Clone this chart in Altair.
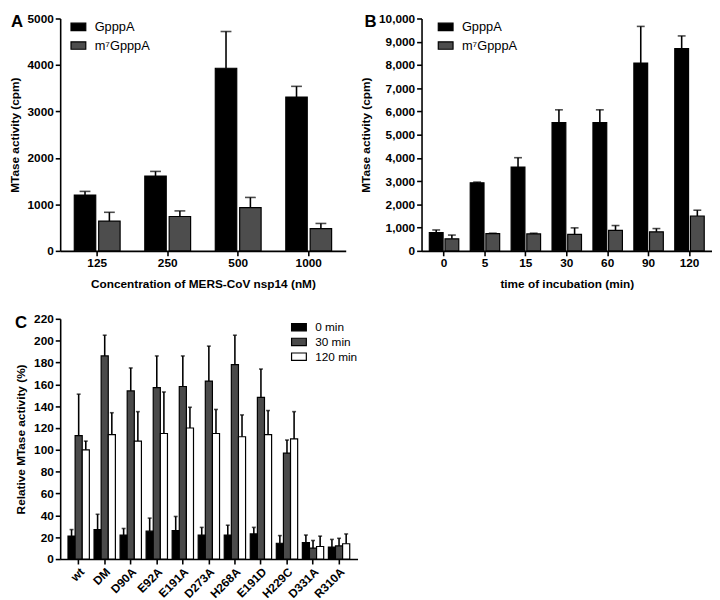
import altair as alt
import pandas as pd

FONT = "Liberation Sans"

# ---------------- Panel A data ----------------
a_conc = ["125", "250", "500", "1000"]
a_series = ["GpppA", "m⁷GpppA"]
a_gppp = [1200, 1610, 3930, 3310]
a_gppp_top = [1280, 1710, 4720, 3540]
a_m7 = [640, 740, 930, 480]
a_m7_top = [830, 860, 1150, 590]

# ---------------- Panel B data ----------------
b_time = ["0", "5", "15", "30", "60", "90", "120"]
b_gppp = [790, 2930, 3610, 5520, 5520, 8080, 8700]
b_gppp_top = [900, 2960, 4010, 6070, 6070, 9660, 9250]
b_m7 = [520, 740, 730, 710, 880, 820, 1500]
b_m7_top = [680, 760, 760, 990, 1090, 960, 1750]

# ---------------- Panel C data ----------------
c_mut = ["wt", "DM", "D90A", "E92A", "E191A", "D273A", "H268A", "E191D", "H229C", "D331A", "R310A"]
c_series = ["0 min", "30 min", "120 min"]
c_0 = [21, 27, 22, 25.5, 26, 22, 22, 23, 14.5, 15, 11]
c_0_top = [27, 41, 28, 37.5, 39, 29, 31, 29, 21.5, 22, 18]
c_30 = [113, 186, 154, 157, 158, 163, 178, 148, 97, 10, 12]
c_30_top = [151, 205, 175, 186, 186, 195, 205, 174, 109, 17, 19]
c_120 = [100, 114, 108, 115, 120, 115, 112, 114, 110, 11.5, 14]
c_120_top = [108, 134, 135, 153, 139, 137, 132, 136, 135, 21, 23]


def long_df(cats, series, vals, tops, cf, sf):
    rows = []
    for s, v, t in zip(series, vals, tops):
        for c, vv, tt in zip(cats, v, t):
            rows.append({cf: c, sf: s, "value": vv, "top": tt})
    return pd.DataFrame(rows)


df_a = long_df(a_conc, a_series, [a_gppp, a_m7], [a_gppp_top, a_m7_top], "conc", "subA")
df_b = long_df(b_time, a_series, [b_gppp, b_m7], [b_gppp_top, b_m7_top], "time", "subB")
df_c = long_df(c_mut, c_series, [c_0, c_30, c_120], [c_0_top, c_30_top, c_120_top], "mut", "tp")

RECT = "M-1,-0.5H1V0.5H-1Z"


def panel(df, cf, sf, cats, series, colors, ymax, ystep, ytitle, xtitle, fmt, w, h,
          pin, pout, offpad, capsize, legend, letter, letter_x, label_angle=0):
    yscale = alt.Scale(domain=[0, ymax], nice=False, zero=True)
    yaxis = alt.Axis(values=list(range(0, ymax + 1, ystep)), format=fmt, title=ytitle,
                     titlePadding=6)
    base = alt.Chart(df).encode(
        x=alt.X(f"{cf}:N", sort=cats, title=xtitle,
                scale=alt.Scale(paddingInner=pin, paddingOuter=pout),
                axis=alt.Axis(labelAngle=label_angle, titlePadding=10)),
        xOffset=alt.XOffset(f"{sf}:N", sort=series,
                            scale=alt.Scale(paddingInner=offpad, paddingOuter=0)),
    )
    bars = base.mark_bar(stroke="black", strokeWidth=1.2).encode(
        y=alt.Y("value:Q", scale=yscale, axis=yaxis, title=ytitle),
        fill=alt.Fill(f"{sf}:N", sort=series,
                      scale=alt.Scale(domain=series, range=colors), legend=legend),
    )
    rule = base.mark_rule(color="black", strokeWidth=1.6).encode(
        y=alt.Y("value:Q", scale=yscale, axis=yaxis, title=ytitle),
        y2="top:Q",
    )
    cap = base.mark_tick(orient="horizontal", size=capsize, thickness=1.6, color="black").encode(
        y=alt.Y("top:Q", scale=yscale, axis=yaxis, title=ytitle),
    )
    lab = alt.Chart(pd.DataFrame({"t": [letter]})).mark_text(
        font=FONT, fontSize=17, fontWeight="bold", align="left", baseline="top", color="black"
    ).encode(x=alt.value(letter_x), y=alt.value(-4), text="t:N")
    return alt.layer(bars, rule, cap, lab).properties(width=w, height=h)


def legend(x, y, labsize, rowpad):
    return alt.Legend(title=None, orient="none", legendX=x, legendY=y,
                      symbolType=RECT, symbolSize=225, symbolStrokeColor="black",
                      symbolStrokeWidth=1.2, labelFontSize=labsize, labelFont=FONT,
                      labelFontWeight="normal", rowPadding=rowpad, labelOffset=8)


chart_a = panel(df_a, "conc", "subA", a_conc, a_series, ["#000000", "#4d4d4d"], 5000, 1000,
                "MTase activity (cpm)", "Concentration of MERS-CoV nsp14 (nM)", "d",
                290, 236, 0.35, 0.2, 0.12, 11, legend(10, 0, 13, 3), "A", -50)

chart_b = panel(df_b, "time", "subB", b_time, a_series, ["#000000", "#4d4d4d"], 10000, 1000,
                "MTase activity (cpm)", "time of incubation (min)", ",d",
                295, 236, 0.28, 0.19, 0.12, 8, legend(16, 0, 13, 3), "B", -58)

chart_c = panel(df_c, "mut", "tp", c_mut, c_series, ["#000000", "#4a4a4a", "#ffffff"], 220, 20,
                "Relative MTase activity (%)", None, "d",
                302, 244, 0.18, 0.3, 0.0, 4, legend(234, 0, 12, 0), "C", -46,
                label_angle=-45)

top = alt.hconcat(chart_a, chart_b, spacing=14).resolve_scale(
    fill="independent", x="independent", y="independent", xOffset="independent")
chart = alt.vconcat(top, chart_c, spacing=24).resolve_scale(
    fill="independent", x="independent", y="independent", xOffset="independent"
).properties(padding={"left": 0, "top": 0, "right": 0, "bottom": 0}).configure_view(
    stroke=None
).configure_axis(
    grid=False,
    domainColor="black", domainWidth=1.6,
    tickColor="black", tickWidth=1.6, tickSize=5,
    labelFont=FONT, labelFontSize=12, labelFontWeight="bold", labelColor="black",
    titleFont=FONT, titleFontSize=12, titleFontWeight="bold", titleColor="black",
)

chart.save("out.html", embed_options={"renderer": "svg", "actions": False})
